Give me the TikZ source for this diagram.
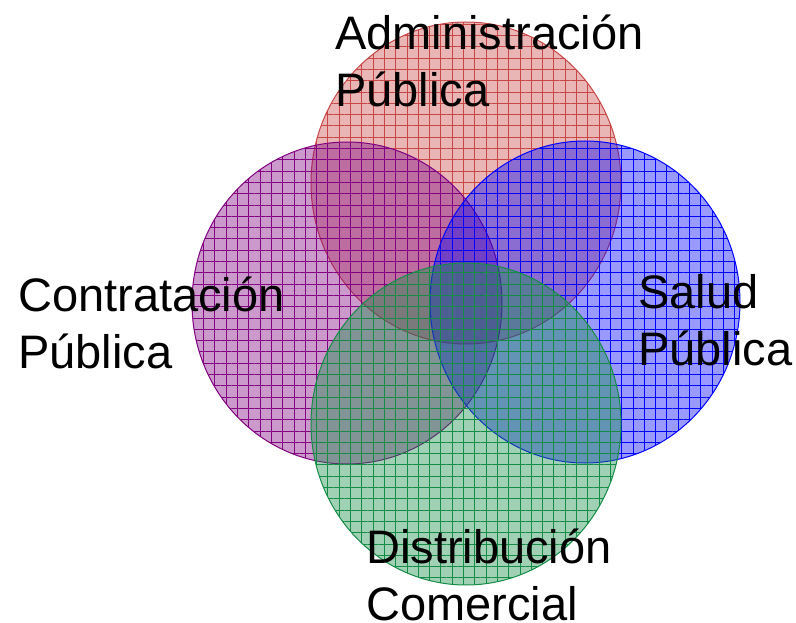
\documentclass[tikz,border=0pt]{standalone}
\usepackage{fontspec}
\setmainfont{Liberation Sans}
\usetikzlibrary{patterns.meta}
\definecolor{admred}{RGB}{200,70,70}
\definecolor{conpurple}{RGB}{128,0,128}
\definecolor{salblue}{RGB}{0,0,255}
\definecolor{disgreen}{RGB}{20,140,70}
\tikzset{x=1pt, y=-1pt,
  area/.style={draw=#1, line width=1pt, fill=#1, fill opacity=0.4,
    postaction={pattern={Hatch[distance=11.3pt, line width=0.6pt]}, pattern color=#1}},
  txt/.style={font=\fontsize{47}{57}\selectfont, align=left, anchor=base west, inner sep=0pt}}
\begin{document}
\begin{tikzpicture}
  \useasboundingbox (0,0) rectangle (796,623);
  \coordinate (adm) at (466,183);
  \coordinate (con) at (347,303);
  \coordinate (sal) at (585,302);
  \coordinate (dis) at (466,424);

  \draw[area=admred] (adm) ellipse [x radius=155, y radius=161];
  \draw[area=conpurple] (con) ellipse [x radius=155, y radius=161];
  \draw[area=salblue] (sal) ellipse [x radius=155, y radius=161];
  \draw[area=disgreen] (dis) ellipse [x radius=155, y radius=161];

  % anchor base = last line
  \node[txt] (admtxt) at (335,107) {Administración\\Pública};
  \node[txt] (contxt) at (18,368) {Contratación\\Pública};
  \node[txt] (saltxt) at (638,365) {Salud\\Pública};
  \node[txt] (distxt) at (366,620) {Distribución\\Comercial};
\end{tikzpicture}
\end{document}
